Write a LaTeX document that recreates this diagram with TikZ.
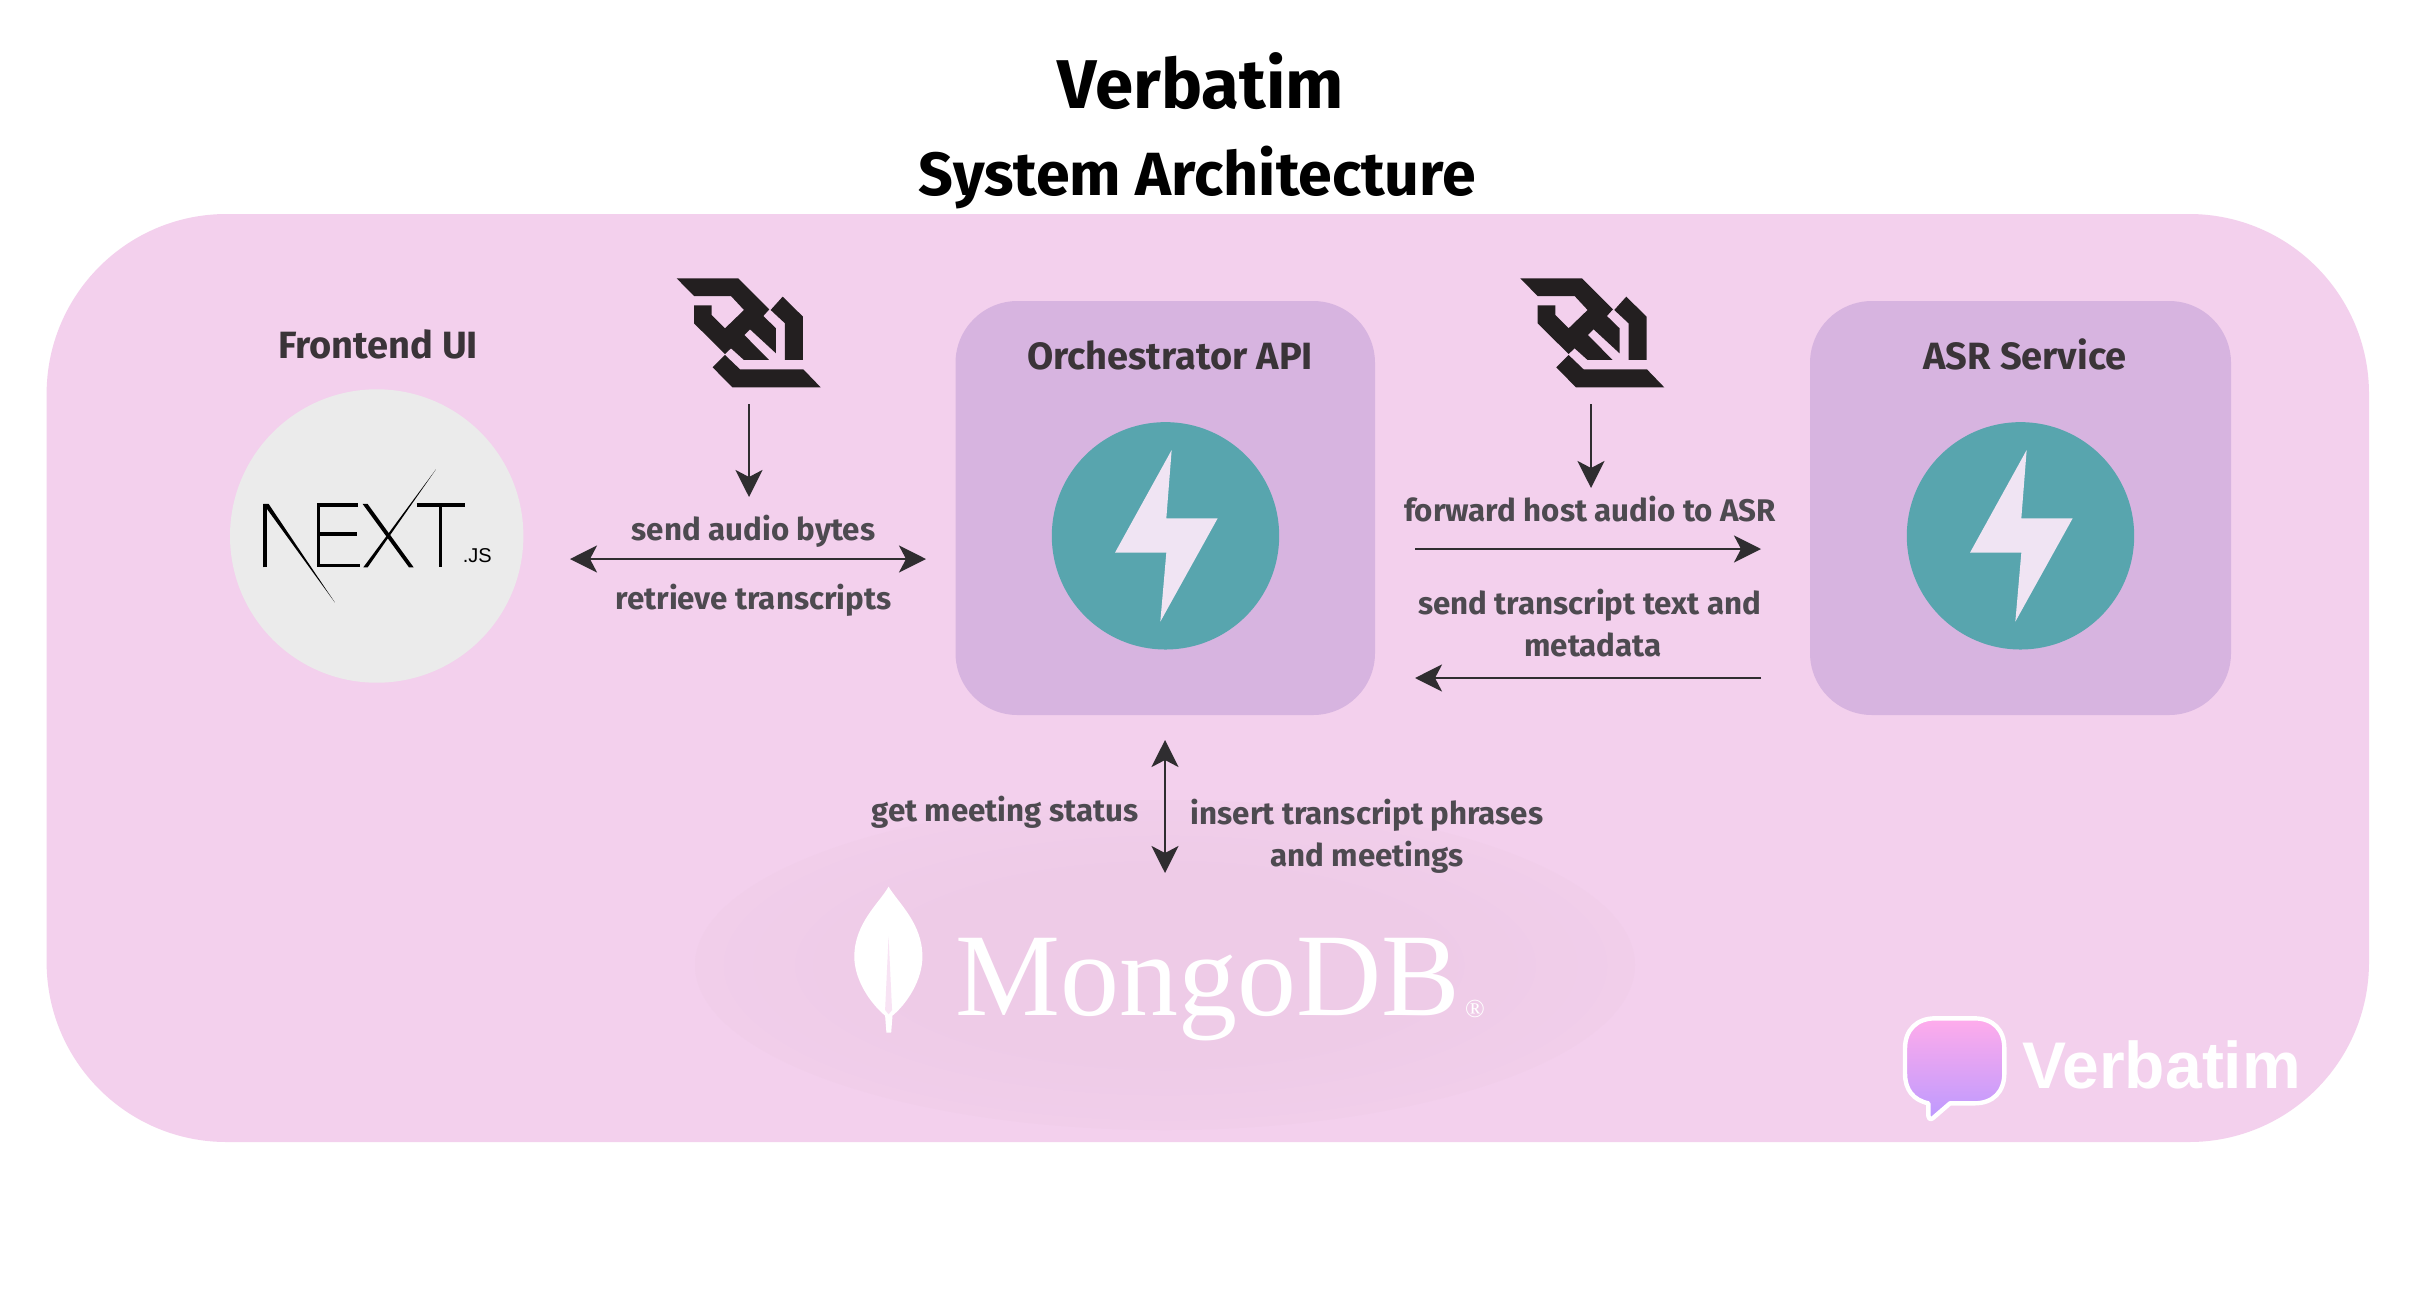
\documentclass[tikz,border=0pt]{standalone}
\usepackage{fontspec}
\usetikzlibrary{arrows.meta}
\setmainfont{Fira Sans}
\newfontfamily\logofont{Liberation Sans}
\newfontfamily\mongofont{Liberation Serif}
\definecolor{panelc}{HTML}{F3D0ED}
\definecolor{boxc}{HTML}{D7B4E0}
\definecolor{fastc}{HTML}{58A5AE}
\definecolor{boltc}{HTML}{F0E4F3}
\definecolor{nextc}{HTML}{EBEBEB}
\definecolor{inkc}{HTML}{4D4A50}
\definecolor{headc}{HTML}{3A3438}
\definecolor{arrowc}{HTML}{2F2D30}
\definecolor{wsc}{HTML}{231F20}
\definecolor{glowc}{HTML}{EECBE7}
\definecolor{bubtop}{HTML}{FFACEB}
\definecolor{bubbot}{HTML}{BC99FF}
\pgfdeclareradialshading{softglow}{\pgfpoint{0bp}{0bp}}{color(0bp)=(glowc); color(14bp)=(glowc); color(33bp)=(panelc); color(50bp)=(panelc)}
\tikzset{
  panelbox/.style={fill=panelc,rounded corners=180pt},
  svcbox/.style={fill=boxc,rounded corners=62pt},
  lbl/.style={text=inkc,font=\bfseries\fontsize{31.3}{36}\selectfont,inner sep=0pt,anchor=base},
  svclbl/.style={text=headc,font=\bfseries\fontsize{38}{44}\selectfont,inner sep=0pt,anchor=base},
  titlea/.style={text=black,font=\bfseries\fontsize{69}{74}\selectfont,inner sep=0pt,anchor=base},
  titleb/.style={text=black,font=\bfseries\fontsize{61}{66}\selectfont,inner sep=0pt,anchor=base},
  conn/.style={draw=arrowc,line width=2.8pt,-{Stealth[length=27pt,width=27pt,inset=7pt]}},
  dconn/.style={draw=arrowc,line width=2.8pt,{Stealth[length=27pt,width=27pt,inset=7pt]}-{Stealth[length=27pt,width=27pt,inset=7pt]}},
  nextline/.style={draw=black,line width=3.2pt}
}
\newcommand{\wsicon}[2]{%
  \begin{scope}[shift={(#1,#2)},x=0.3333pt,y=-0.3333pt]
    \fill[wsc] (80,55) -- (265,55) -- (358,148) -- (340,168) -- (378,205) -- (378,280) -- (300,208) -- (283,225) -- (357,300) -- (282,300) -- (243,265) -- (225,282) -- (132,190) -- (132,136) -- (185,136) -- (185,165) -- (225,205) -- (282,150) -- (243,108) -- (132,108) -- cycle;
    \fill[wsc] (398,110) -- (459,170) -- (459,300) -- (405,300) -- (405,190) -- (362,150) -- cycle;
    \fill[wsc] (225,285) -- (270,328) -- (460,328) -- (512,382) -- (247,382) -- (188,322) -- cycle;
  \end{scope}}
\newcommand{\fastapi}[2]{%
  \begin{scope}[shift={(#1,#2)},x=0.3333pt,y=-0.3333pt]
    \fill[fastc] (376.5,377.5) circle[radius=113.7pt];
    \fill[boltc] (395,120) -- (379,325) -- (533,325) -- (361,635) -- (379,428) -- (225,428) -- cycle;
  \end{scope}}
\begin{document}
\begin{tikzpicture}[x=1pt,y=-1pt]
\useasboundingbox (0,0) rectangle (2436,1302);
\fill[white] (0,0) rectangle (2436,1302);
% titles
\node[titlea] (title) at (1201,108) {Verbatim};
\node[titleb] (subtitle) at (1197.5,195) {System Architecture};
% panel
\fill[panelbox] (46.6,214) rectangle (2369,1142);
% service boxes
\fill[svcbox] (955.5,301) rectangle (1375,715);
\fill[svcbox] (1810,301) rectangle (2231,715);
\node[svclbl] (frontend) at (378,358) {Frontend UI};
\node[svclbl] (orch) at (1170,369) {Orchestrator API};
\node[svclbl] (asr) at (2025,369) {ASR Service};
% next logo
\fill[nextc] (376.7,536) circle[radius=146.7pt];
\begin{scope}[shift={(220,380)},x=0.3333pt,y=-0.3333pt]
  \draw[nextline,line cap=butt] (135,562) -- (135,372);
  \fill[black] (130,372) -- (146,372) -- (345,668) -- cycle;
  \draw[nextline] (296,560) -- (296,375) ;
  \draw[nextline] (291,375) -- (415,375);
  \draw[nextline] (296,462) -- (412,462);
  \draw[nextline] (291,557) -- (420,557);
  \fill[black] (430,562) -- (443,562) -- (648,268) -- cycle;
  \fill[black] (428,372) -- (443,372) -- (581,562) -- (567,562) -- cycle;
  \draw[nextline] (590,375) -- (735,375);
  \draw[nextline] (661,375) -- (661,562);
  \node[anchor=base west,inner sep=0pt,font=\logofont\fontsize{20}{20}\selectfont,text=black] (nextjs) at (728,548) {.JS};
\end{scope}
% websocket icons
\wsicon{650}{260}
\wsicon{1493.6}{260}
% fastapi
\fastapi{1040}{410}
\fastapi{1895}{410}
% mongodb glow
\shade[shading=softglow] (1165,965) ellipse[x radius=470pt,y radius=165pt];
% connector end points
\coordinate (a1s) at (749,404);
\coordinate (a1e) at (749,497);
\coordinate (a2s) at (570,559);
\coordinate (a2e) at (926,559);
\coordinate (a3s) at (1591,404);
\coordinate (a3e) at (1591,488);
\coordinate (a4s) at (1415,549);
\coordinate (a4e) at (1761,549);
\coordinate (a5s) at (1761,678);
\coordinate (a5e) at (1415,678);
\coordinate (a6s) at (1165,740);
\coordinate (a6e) at (1165,873);
\draw[conn] (a1s) -- (a1e);
\draw[dconn] (a2s) -- (a2e);
\draw[conn] (a3s) -- (a3e);
\draw[conn] (a4s) -- (a4e);
\draw[conn] (a5s) -- (a5e);
\draw[dconn] (a6s) -- (a6e);
% labels
\node[lbl] (l1) at (753.5,540.6) {send audio bytes};
\node[lbl] (l2) at (753.5,609) {retrieve transcripts};
\node[lbl] (l3) at (1590,521.5) {forward host audio to ASR};
\node[lbl] (l4a) at (1589.5,614.5) {send transcript text and};
\node[lbl] (l4b) at (1593,656.5) {metadata};
\node[lbl] (l5) at (1005,821) {get meeting status};
\node[lbl] (l6a) at (1367,824) {insert transcript phrases};
\node[lbl] (l6b) at (1367,866) {and meetings};
% mongodb
\begin{scope}[shift={(840,880)},x=0.4337pt,y=-0.3333pt]
  \fill[white] (112,20) .. controls (90,70) and (33,130) .. (33,230) .. controls (33,300) and (70,370) .. (104,407) -- (107,458) -- (118,458) -- (121,407) .. controls (155,370) and (190,300) .. (190,230) .. controls (190,130) and (135,70) .. (112,20) -- cycle;
  \fill[panelc!60!white] (112,170) -- (104,390) -- (112,403) -- (120,390) -- cycle;
\end{scope}
\node[anchor=base west,inner sep=0pt,text=white,font=\mongofont\fontsize{118}{118}\selectfont] (mongo) at (955,1015) {MongoDB};
\node[anchor=base west,inner sep=0pt,text=white,font=\mongofont\fontsize{26}{26}\selectfont] (reg) at (1465,1017) {®};
% verbatim logo
\begin{scope}[shift={(1900,1010)},x=0.3333pt,y=-0.3333pt]
  \shade[top color=bubtop,bottom color=bubbot,draw=white,line width=4.4pt,line join=round]
    (105,25) -- (223,25) .. controls (280,25) and (313,60) .. (313,115) -- (313,190) .. controls (313,245) and (280,280) .. (223,280) -- (150,280) -- (98,325) .. controls (90,330) and (85,325) .. (85,318) -- (85,280) .. controls (40,270) and (15,240) .. (15,190) -- (15,115) .. controls (15,60) and (50,25) .. (105,25) -- cycle;
\end{scope}
\node[anchor=base west,inner sep=0pt,text=white,font=\logofont\bfseries\fontsize{66}{66}\selectfont] (brand) at (2022,1088) {Verbatim};
\end{tikzpicture}
\end{document}
